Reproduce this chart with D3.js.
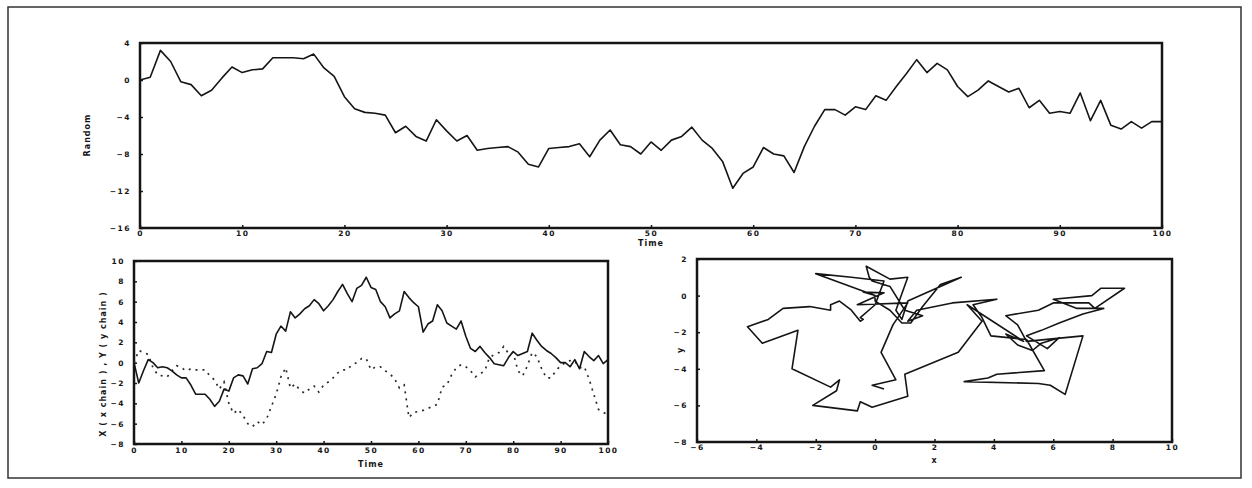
<!DOCTYPE html>
<html>
<head>
<meta charset="utf-8">
<script src="https://cdnjs.cloudflare.com/ajax/libs/d3/7.8.5/d3.min.js"></script>
<style>
body { margin: 0; background: #fff; }
text { font-family: "DejaVu Sans", sans-serif; }
</style>
</head>
<body>
<div class="container"></div>
<script>
// random walk shown in the top panel, one value per time step 0..100
var randomWalk = [0.0, 0.3, 3.2, 2.0, -0.2, -0.5, -1.7, -1.1, 0.2, 1.4,
  0.8, 1.1, 1.2, 2.4, 2.4, 2.4, 2.3, 2.8, 1.3, 0.4,
  -1.8, -3.1, -3.5, -3.6, -3.8, -5.7, -5.0, -6.1, -6.6, -4.3,
  -5.5, -6.6, -6.0, -7.6, -7.4, -7.3, -7.2, -7.8, -9.1, -9.4,
  -7.4, -7.3, -7.2, -6.9, -8.3, -6.5, -5.4, -7.0, -7.2, -8.0,
  -6.7, -7.6, -6.5, -6.1, -5.1, -6.5, -7.4, -8.8, -11.7, -10.1,
  -9.4, -7.3, -8.0, -8.2, -10.0, -7.2, -5.0, -3.2, -3.2, -3.8,
  -2.9, -3.2, -1.7, -2.2, -0.7, 0.7, 2.2, 0.8, 1.8, 1.1,
  -0.7, -1.8, -1.1, -0.1, -0.7, -1.3, -0.9, -3.0, -2.2, -3.6,
  -3.4, -3.6, -1.4, -4.4, -2.2, -4.9, -5.3, -4.5, -5.2, -4.5,
  -4.5];

// x chain (solid) and y chain (dotted), also plotted against each other
var xChain = [0.0, -2.0, -0.8, 0.3, 0.0, -0.5, -0.4, -0.5, -0.8, -1.2,
  -1.5, -1.5, -2.2, -3.1, -3.1, -3.1, -3.6, -4.3, -3.8, -2.6,
  -2.8, -1.5, -1.2, -1.3, -2.1, -0.6, -0.5, -0.1, 1.1, 1.0,
  2.8, 3.6, 3.1, 5.0, 4.4, 4.8, 5.3, 5.6, 6.2, 5.8,
  5.1, 5.6, 6.2, 7.0, 7.7, 6.8, 6.0, 7.3, 7.6, 8.4,
  7.4, 7.2, 6.0, 5.5, 4.4, 4.8, 5.1, 7.0, 6.4, 5.9,
  5.5, 3.0, 3.8, 4.1, 5.7, 5.1, 3.9, 3.6, 3.3, 4.1,
  2.6, 1.4, 1.1, 1.6, 1.0, 0.5, -0.1, -0.2, -0.3, 0.5,
  1.1, 0.7, 0.9, 1.1, 2.9, 2.2, 1.6, 1.2, 0.9, 0.5,
  0.0, 0.0, -0.4, 0.3, -0.6, 1.1, 0.6, 0.2, 0.7, -0.1,
  0.3];

var yChain = [0.0, 1.2, 1.0, 0.8, -0.5, -1.2, -1.3, -1.4, -0.8, -0.3,
  -0.5, -0.8, -0.6, -0.7, -0.7, -0.7, -1.3, -1.7, -2.6, -1.9,
  -4.0, -5.0, -4.6, -5.2, -6.0, -6.3, -5.8, -6.1, -5.5, -4.3,
  -3.1, -1.4, -0.5, -2.5, -2.1, -2.7, -3.0, -2.6, -2.3, -2.9,
  -2.2, -1.9, -1.5, -1.0, -0.7, -0.7, -0.2, 0.0, 0.4, 0.4,
  -0.7, -0.4, -0.4, -0.8, -1.1, -1.6, -2.5, -2.2, -5.4, -4.9,
  -4.8, -4.7, -4.5, -4.3, -4.1, -2.4, -2.2, -1.2, -0.5, -0.2,
  -0.4, -0.8, -1.4, -1.1, -0.8, 0.5, 0.8, 1.0, 1.6, 0.9,
  1.0, -0.8, -1.3, -0.3, 1.0, 0.6, -0.6, -1.5, -1.5, -0.8,
  -0.3, 0.0, 0.2, 0.15, -0.5, -0.4, -1.6, -3.1, -4.6, -4.9,
  -5.1];

var timeTicks = [0, 10, 20, 30, 40, 50, 60, 70, 80, 90, 100];
var walkTicks = [4, 0, -4, -8, -12, -16];
var chainTicks = [10, 8, 6, 4, 2, 0, -2, -4, -6, -8];
var xyXTicks = [-6, -4, -2, 0, 2, 4, 6, 8, 10];
var xyYTicks = [2, 0, -2, -4, -6, -8];

const WIDTH = 1252;
const HEIGHT = 488;
const INK = "#151515";

var translate = function(x, y){
  return "translate(" + x + "," + y + ")";
};

var svg = d3.select(".container").append("svg")
  .attr("width", WIDTH)
  .attr("height", HEIGHT);

// outer frame of the scanned figure
svg.append("rect")
  .attr("x", 8).attr("y", 7)
  .attr("width", 1233).attr("height", 471)
  .attr("fill", "none")
  .attr("stroke", "#333")
  .attr("stroke-width", 1.5);

var styleTicks = function(g){
  g.select(".domain").remove();
  g.selectAll("line").attr("stroke", INK).attr("stroke-width", 1.5);
  g.selectAll("text")
    .attr("fill", INK)
    .attr("font-size", 7.5)
    .attr("font-weight", "bold")
    .attr("letter-spacing", 1.5);
};

var drawPanel = function(x, y, xTicks, yTicks, xPad){
  var g = svg.append("g");
  var x0 = x.range()[0], x1 = x.range()[1];
  var y0 = y.range()[0], y1 = y.range()[1];

  g.append("g")
    .attr("transform", translate(0, y0))
    .call(d3.axisBottom(x).tickValues(xTicks).tickSizeInner(-3).tickSizeOuter(0).tickPadding(xPad).tickFormat(d3.format("d")))
    .call(styleTicks);

  g.append("g")
    .attr("transform", translate(x0, 0))
    .call(d3.axisLeft(y).tickValues(yTicks).tickSizeInner(-3).tickSizeOuter(0).tickPadding(9).tickFormat(d3.format("d")))
    .call(styleTicks);

  g.append("rect")
    .attr("x", x0).attr("y", y1)
    .attr("width", x1 - x0).attr("height", y0 - y1)
    .attr("fill", "none")
    .attr("stroke", INK)
    .attr("stroke-width", 2.5);
  return g;
};

var axisTitle = function(text, x, y, rotate){
  svg.append("text")
    .attr("transform", translate(x, y) + (rotate ? " rotate(-90)" : ""))
    .attr("text-anchor", "middle")
    .attr("font-size", 8)
    .attr("font-weight", "bold")
    .attr("letter-spacing", 1)
    .attr("fill", INK)
    .text(text);
};

// top panel: random walk against time
var topX = d3.scaleLinear().domain([0, 100]).range([140, 1162]);
var topY = d3.scaleLinear().domain([-16, 4]).range([228, 43]);
drawPanel(topX, topY, timeTicks, walkTicks, 3);

var walkLine = d3.line()
  .x(function(d, i){ return topX(i); })
  .y(function(d){ return topY(d); });

svg.append("path")
  .datum(randomWalk)
  .attr("d", walkLine)
  .attr("fill", "none")
  .attr("stroke", INK)
  .attr("stroke-width", 1.6)
  .attr("stroke-linejoin", "round");

axisTitle("Time", topX(50), 246, false);
axisTitle("Random", 90, 135, true);

// bottom left: both chains against time
var chainX = d3.scaleLinear().domain([0, 100]).range([134, 608]);
var chainY = d3.scaleLinear().domain([-8, 10]).range([444, 261]);
drawPanel(chainX, chainY, timeTicks, chainTicks, 4);

var chainLine = d3.line()
  .x(function(d, i){ return chainX(i); })
  .y(function(d){ return chainY(d); });

svg.append("path")
  .datum(yChain)
  .attr("d", chainLine)
  .attr("fill", "none")
  .attr("stroke", "#2a2a2a")
  .attr("stroke-width", 1.7)
  .attr("stroke-dasharray", "2,5");

svg.append("path")
  .datum(xChain)
  .attr("d", chainLine)
  .attr("fill", "none")
  .attr("stroke", INK)
  .attr("stroke-width", 1.6)
  .attr("stroke-linejoin", "round");

axisTitle("Time", chainX(50), 467, false);
axisTitle("X ( x chain ) , Y ( y chain )", 106, 364, true);

// bottom right: y chain against x chain
var xyX = d3.scaleLinear().domain([-6, 10]).range([697, 1172]);
var xyY = d3.scaleLinear().domain([-8, 2]).range([442, 259]);
drawPanel(xyX, xyY, xyXTicks, xyYTicks, 3);

var pathLine = d3.line()
  .x(function(d){ return xyX(xChain[d]); })
  .y(function(d){ return xyY(yChain[d]); });

svg.append("path")
  .datum(xChain.map(function(d, i){ return i; }))
  .attr("d", pathLine)
  .attr("fill", "none")
  .attr("stroke", INK)
  .attr("stroke-width", 1.6)
  .attr("stroke-linejoin", "round");

axisTitle("x", xyX(2), 463, false);
axisTitle("y", 683, 350, true);
</script>
</body>
</html>
